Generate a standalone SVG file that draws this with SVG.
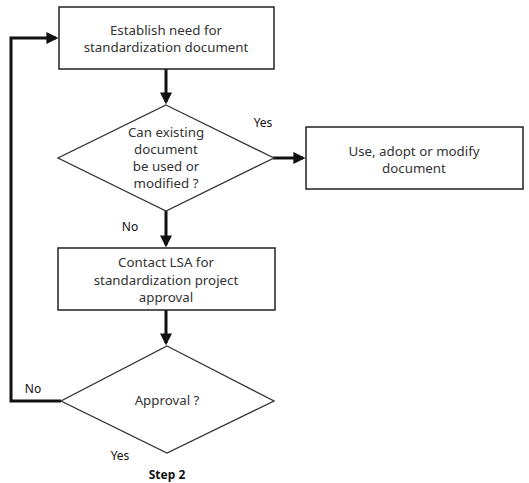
<svg xmlns="http://www.w3.org/2000/svg" width="529" height="483" viewBox="0 0 529 483">
<style>
.box{fill:#fff;stroke:#222;stroke-width:1.5}
.dia{fill:#fff;stroke:#333;stroke-width:1.3}
.t{font-family:"Noto Sans","Open Sans",sans-serif;font-size:13.3px;fill:#333;text-anchor:middle}
.lbl{font-family:"Noto Sans","Open Sans",sans-serif;font-size:12px;fill:#111;text-anchor:middle}
.c{fill:none;stroke:#111;stroke-width:3}
</style>
<defs>
<marker id="ah" markerWidth="4" markerHeight="4" refX="3.2" refY="2" orient="auto" markerUnits="strokeWidth">
<path d="M0,0 L4,2 L0,4 Z" fill="#111"/>
</marker>
</defs>
<rect width="529" height="483" fill="#fff"/>
<g id="connectors">
<path class="c" d="M166,69 V102" marker-end="url(#ah)"/>
<path class="c" d="M273,158 H303" marker-end="url(#ah)"/>
<path class="c" d="M166,211 V245" marker-end="url(#ah)"/>
<path class="c" d="M166,310 V343" marker-end="url(#ah)"/>
<path class="c" d="M61,401 H11 V38 H56" marker-end="url(#ah)"/>
</g>
<g id="n1">
<rect class="box" x="59" y="7" width="215" height="62"/>
<text class="t" x="166" y="35">Establish need for</text>
<text class="t" x="166" y="52">standardization document</text>
</g>
<g id="n2">
<polygon class="dia" points="166,105 274,158 166,211 58,158"/>
<text class="t" x="166" y="137">Can existing</text>
<text class="t" x="166" y="154">document</text>
<text class="t" x="166" y="171">be used or</text>
<text class="t" x="166" y="188">modified ?</text>
</g>
<g id="n3">
<rect class="box" x="306" y="127" width="217" height="62"/>
<text class="t" x="414" y="156">Use, adopt or modify</text>
<text class="t" x="414" y="173">document</text>
</g>
<g id="n4">
<rect class="box" x="58" y="248" width="217" height="62"/>
<text class="t" x="166" y="267">Contact LSA for</text>
<text class="t" x="166" y="285">standardization project</text>
<text class="t" x="166" y="302">approval</text>
</g>
<g id="n5">
<polygon class="dia" points="167,346 274,401 167,453 61,401"/>
<text class="t" x="167" y="405">Approval ?</text>
</g>
<g id="labels">
<text class="lbl" x="263" y="127">Yes</text>
<text class="lbl" x="130" y="231">No</text>
<text class="lbl" x="33" y="393">No</text>
<text class="lbl" x="120" y="460">Yes</text>
<text class="lbl" x="167" y="479" font-weight="bold">Step 2</text>
</g>
</svg>
